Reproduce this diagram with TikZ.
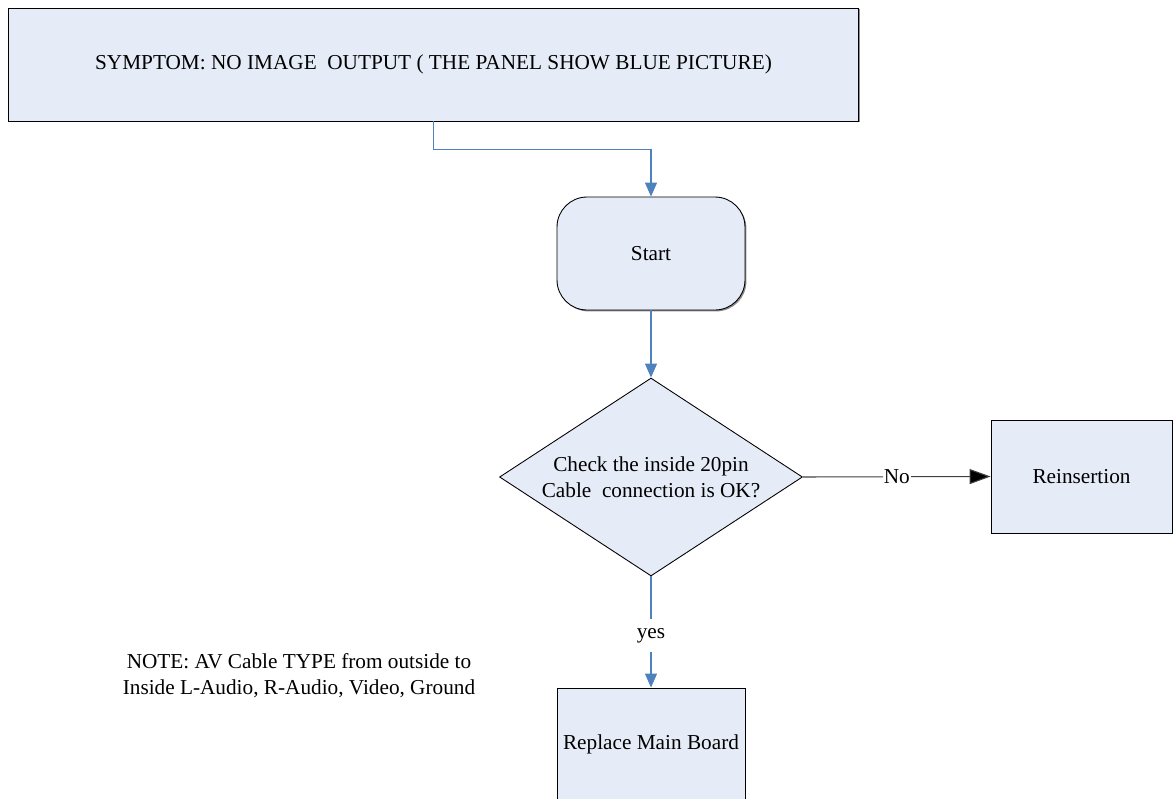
\documentclass[tikz,border=0pt]{standalone}
\usepackage{fontspec}
\setmainfont{Liberation Serif}
\usetikzlibrary{shapes.geometric,arrows.meta,shadows}
\definecolor{boxfill}{RGB}{230,236,247}
\definecolor{flowblue}{RGB}{79,129,189}
\tikzset{
  box/.style={draw=black, fill=boxfill, line width=0.5pt, inner sep=0pt, align=center,
    drop shadow={shadow xshift=0.8pt, shadow yshift=-0.8pt, fill=black!45, opacity=1}},
  startbox/.style={box, rounded corners=0.6cm},
  decision/.style={draw=black, fill=boxfill, line width=0.5pt, inner sep=0pt, align=center, diamond, aspect=1.53},
  flowline/.style={draw=flowblue, line width=0.6pt, -{Triangle[length=0.28cm, width=0.24cm]}},
  noline/.style={draw=black!75, line width=0.6pt, -{Triangle[length=0.42cm, width=0.3cm, fill=black]}},
  edgelabel/.style={fill=white, inner xsep=0.5pt, inner ysep=1pt},
}
\begin{document}
\begin{tikzpicture}[x=0.02cm, y=0.02cm, font=\fontsize{12.1}{14.8}\selectfont]
    \useasboundingbox (0, 0) rectangle (1173, -798);

    \node[box, minimum width=17.02cm, minimum height=2.26cm] (symptom) at (433.5, -64.5)
      {SYMPTOM: NO IMAGE\ \ OUTPUT ( THE PANEL SHOW BLUE PICTURE)};
    \node[startbox, minimum width=3.76cm, minimum height=2.26cm] (start) at (651, -253.5) {Start};
    \node[decision, minimum width=6.06cm, minimum height=3.96cm] (check) at (651, -477)
      {Check the inside 20pin\\Cable\ \ connection is OK?};
    \node[box, minimum width=3.62cm, minimum height=2.26cm] (reinsert) at (1081.5, -476.5) {Reinsertion};
    \node[box, minimum width=3.76cm, minimum height=2.26cm] (replace) at (651, -744.5) {Replace Main Board};
    \node[align=center] (note) at (299, -676)
      {NOTE: AV Cable TYPE from outside to\\Inside L-Audio, R-Audio, Video, Ground};

    \draw[flowline] (symptom.south) -- ++(0, -28.5) -| (start.north);
    \draw[flowline] (start.south) -- (check.north);
    \draw[noline] (check.east) -- node[edgelabel] {No} (reinsert.west);
    \draw[flowline] (check.south) -- node[edgelabel, inner ysep=5pt, yshift=-2pt] {yes} (replace.north);
\end{tikzpicture}
\end{document}
